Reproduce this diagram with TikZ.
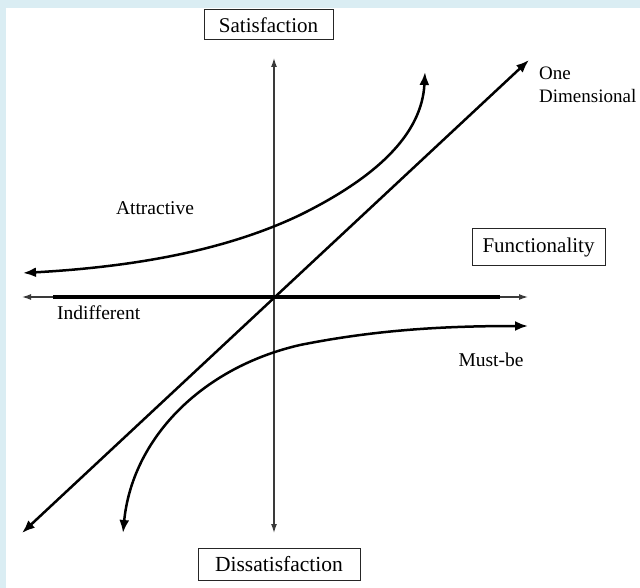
\documentclass[tikz,border=0pt]{standalone}
\usepackage{fontspec}
\setmainfont{Liberation Serif}
\usetikzlibrary{arrows.meta}
\definecolor{frameblue}{HTML}{DAEDF3}
\definecolor{axisgray}{HTML}{3A3A3A}
\begin{document}
\begin{tikzpicture}[x=1pt,y=-1pt,
  boxlabel/.style={draw=black!85,line width=1pt,inner sep=0pt,font=\fontsize{21}{23}\selectfont},
  plainlabel/.style={inner sep=0pt,font=\fontsize{19.5}{23}\selectfont},
  thinaxis/.style={draw=axisgray,line width=1.3pt,{Latex[length=9pt,width=6pt]}-{Latex[length=9pt,width=6pt]}},
  curvearrow/.style={draw=black,line width=2.5pt,{Latex[length=13pt,width=10pt]}-{Latex[length=13pt,width=10pt]}}]
\useasboundingbox (0,0) rectangle (640,588);
\fill[frameblue] (0,0) rectangle (640,588);
\fill[white] (6,8) rectangle (640,588);
% coordinates
\coordinate (vtop) at (274,58);
\coordinate (vbot) at (274,533);
\coordinate (hleft) at (22,297);
\coordinate (hright) at (528,297);
\coordinate (tleft) at (53,297);
\coordinate (tright) at (500,297);
\coordinate (dlow) at (22,533);
\coordinate (dhigh) at (529,60);
\coordinate (aleft) at (23,273);
\coordinate (atop) at (425,72);
\coordinate (mbot) at (123,533);
\coordinate (mright) at (528,326);
% axes
\draw[thinaxis] (vbot) -- (vtop);
\draw[thinaxis] (hleft) -- (hright);
\draw[line width=4pt,black] (tleft) -- (tright);
% curves
\draw[curvearrow] (dlow) -- (dhigh);
\draw[curvearrow] (aleft) .. controls (150,266) and (235,246) .. (300,215) .. controls (375,178) and (422,135) .. (atop);
\draw[curvearrow] (mbot) .. controls (132,440) and (200,368) .. (300,345) .. controls (380,329) and (450,326) .. (mright);
% labels
\node[boxlabel,minimum width=129pt,minimum height=30pt] (sat) at (268.5,25) {Satisfaction};
\node[boxlabel,minimum width=133pt,minimum height=37pt] (func) at (538.5,247.5) {Functionality};
\node[boxlabel,minimum width=162pt,minimum height=32pt,font=\fontsize{21.5}{23}\selectfont] (dis) at (279,564) {Dissatisfaction};
\node[plainlabel,anchor=west,align=left,font=\fontsize{19}{23}\selectfont] (one) at (539,85) {One\\Dimensional};
\node[plainlabel] (attr) at (155,208) {Attractive};
\node[plainlabel,anchor=west] (indiff) at (57,313) {Indifferent};
\node[plainlabel] (must) at (491,360) {Must-be};
\end{tikzpicture}
\end{document}
